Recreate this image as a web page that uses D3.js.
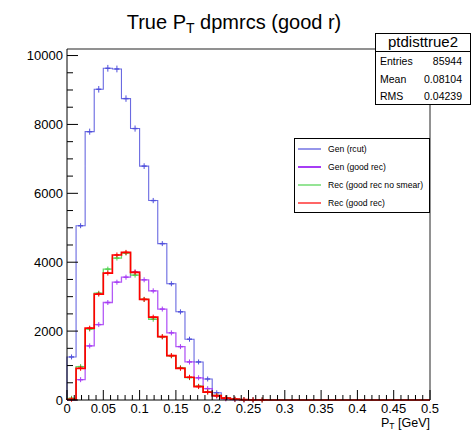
<!DOCTYPE html>
<html>
<head>
<meta charset="utf-8">
<script src="https://cdn.jsdelivr.net/npm/d3@7"></script>
<style>
    html, body { margin: 0; padding: 0; background: #fff; }
    svg { display: block; font-family: "Liberation Sans", Arial, Helvetica, sans-serif; }
</style>
</head>
<body>
<svg id="chart" width="474" height="430"></svg>
<script>
// Histogram contents, 40 bins of 0.0125 GeV from 0 to 0.5
const binLow = 0;
const binHigh = 0.5;
const nBins = 40;

const genRcut = [1250, 5060, 7790, 9020, 9630, 9610, 8750, 7880, 6790, 5790,
    4540, 3375, 2560, 1765, 1105, 610, 210, 60, 20, 8,
    3, 1, 0, 0, 0, 0, 0, 0, 0, 0, 0, 0, 0, 0, 0, 0, 0, 0, 0, 0];
const genGoodRec = [0, 590, 1570, 2190, 2830, 3420, 3565, 3720, 3490, 3170,
    2640, 1950, 1550, 1105, 645, 330, 110, 30, 10, 3,
    1, 0, 0, 0, 0, 0, 0, 0, 0, 0, 0, 0, 0, 0, 0, 0, 0, 0, 0, 0];
const recNoSmear = [50, 970, 2060, 3100, 3800, 4120, 4265, 3625, 2920, 2345,
    1830, 1280, 940, 650, 400, 235, 130, 60, 25, 10,
    5, 2, 0, 0, 0, 0, 0, 0, 0, 0, 0, 0, 0, 0, 0, 0, 0, 0, 0, 0];
const recGoodRec = [20, 920, 2085, 3075, 3685, 4210, 4285, 3705, 2920, 2405,
    1840, 1290, 920, 660, 390, 230, 125, 55, 25, 10,
    5, 2, 0, 0, 0, 0, 0, 0, 0, 0, 0, 0, 0, 0, 0, 0, 0, 0, 0, 0];

const seriesNames = ["Gen (rcut)", "Gen (good rec)", "Rec (good rec no smear)", "Rec (good rec)"];
const seriesValues = [genRcut, genGoodRec, recNoSmear, recGoodRec];
const seriesColors = ["#5050dc", "#a63cf5", "#4fd24f", "#ff0000"];
const seriesWidths = [1.1, 1.3, 1.3, 1.7];

const xTicks = [0, 0.05, 0.1, 0.15, 0.2, 0.25, 0.3, 0.35, 0.4, 0.45, 0.5];
const yTicks = [0, 2000, 4000, 6000, 8000, 10000];

const statLabels = ["Entries", "Mean", "RMS"];
const statValues = ["85944", "0.08104", "0.04239"];

const svg = d3.select("#chart");
const frame = { left: 67, right: 430, top: 49, bottom: 400 };

const x = d3.scaleLinear().domain([binLow, binHigh]).range([frame.left, frame.right]);
const y = d3.scaleLinear().domain([0, 10190]).range([frame.bottom, frame.top]);
const binW = (binHigh - binLow) / nBins;

// Frame (top/right in grey like ROOT pads)
svg.append("path")
    .attr("d", `M${frame.left},${frame.top}H${frame.right}V${frame.bottom}`)
    .attr("fill", "none")
    .attr("stroke", "#6e6e6e")
    .attr("stroke-width", 1.5);

// Histograms
const line = d3.line().x(d => d[0]).y(d => d[1]);

seriesValues.forEach((vals, s) => {
    const pts = [[x(binLow), y(0)]];
    vals.forEach((v, i) => {
        pts.push([x(binLow + i * binW), y(v)]);
        pts.push([x(binLow + (i + 1) * binW), y(v)]);
    });
    pts.push([x(binHigh), y(0)]);

    const g = svg.append("g").attr("class", "hist");
    g.append("path")
        .attr("d", line(pts))
        .attr("fill", "none")
        .attr("stroke", seriesColors[s])
        .attr("stroke-width", seriesWidths[s])
        .attr("opacity", s === 3 ? 1 : 0.85);

    // error crosses at bin centres (only where there are entries)
    vals.forEach((v, i) => {
        if (v <= 0) return;
        const cx = x(binLow + (i + 0.5) * binW);
        const cy = y(v);
        const err = Math.max(y(0) - y(Math.sqrt(v)), 2.5);
        g.append("line")
            .attr("x1", cx).attr("x2", cx)
            .attr("y1", cy - err).attr("y2", cy + err)
            .attr("stroke", seriesColors[s])
            .attr("stroke-width", 1);
        g.append("line")
            .attr("x1", cx - 2.5).attr("x2", cx + 2.5)
            .attr("y1", cy).attr("y2", cy)
            .attr("stroke", seriesColors[s])
            .attr("stroke-width", 1.4);
    });
});

// Axes: ticks point inward
const xAxis = svg.append("g");
xAxis.append("line")
    .attr("x1", frame.left).attr("x2", frame.right)
    .attr("y1", frame.bottom).attr("y2", frame.bottom)
    .attr("stroke", "#000");
const xMinor = d3.range(0, 51).map(k => k / 100);
xAxis.selectAll(".xminor")
    .data(xMinor)
    .enter()
    .append("line")
    .attr("x1", d => x(d)).attr("x2", d => x(d))
    .attr("y1", frame.bottom).attr("y2", (d, i) => frame.bottom - (i % 5 === 0 ? 10 : 5))
    .attr("stroke", "#000");
xAxis.selectAll(".xlab")
    .data(xTicks)
    .enter()
    .append("text")
    .attr("x", d => x(d))
    .attr("y", 413)
    .attr("text-anchor", "middle")
    .attr("font-size", 13)
    .text(d => d === 0 ? "0" : String(d));

const xTitle = svg.append("text")
    .attr("x", frame.right)
    .attr("y", 427)
    .attr("text-anchor", "end")
    .attr("font-size", 12.5);
xTitle.append("tspan").text("P");
xTitle.append("tspan").attr("font-size", 8.5).attr("dy", 2).text("T");
xTitle.append("tspan").attr("dy", -2).text(" [GeV]");

const yAxis = svg.append("g");
yAxis.append("line")
    .attr("x1", frame.left).attr("x2", frame.left)
    .attr("y1", frame.top).attr("y2", frame.bottom)
    .attr("stroke", "#000");
const yMinor = d3.range(0, 10001, 500);
yAxis.selectAll(".yminor")
    .data(yMinor)
    .enter()
    .append("line")
    .attr("x1", frame.left)
    .attr("x2", d => frame.left + (d % 2000 === 0 ? 11 : 6))
    .attr("y1", d => y(d)).attr("y2", d => y(d))
    .attr("stroke", "#000");
yAxis.selectAll(".ylab")
    .data(yTicks)
    .enter()
    .append("text")
    .attr("x", 63)
    .attr("y", d => y(d) + 4.5)
    .attr("text-anchor", "end")
    .attr("font-size", 13)
    .text(d => String(d));

// Title
const title = svg.append("text")
    .attr("x", 234)
    .attr("y", 29)
    .attr("text-anchor", "middle")
    .attr("font-size", 20);
title.append("tspan").text("True P");
title.append("tspan").attr("font-size", 14).attr("dy", 4).text("T");
title.append("tspan").attr("dy", -4).text(" dpmrcs (good r)");

// Stats box
const stats = svg.append("g");
stats.append("rect")
    .attr("x", 375.5).attr("y", 33.5)
    .attr("width", 95).attr("height", 71)
    .attr("fill", "#fff")
    .attr("stroke", "#000");
stats.append("line")
    .attr("x1", 375.5).attr("x2", 470.5)
    .attr("y1", 51.5).attr("y2", 51.5)
    .attr("stroke", "#000");
stats.append("text")
    .attr("x", 423).attr("y", 47)
    .attr("text-anchor", "middle")
    .attr("font-size", 15)
    .text("ptdisttrue2");
statLabels.forEach((lab, i) => {
    const ty = 65 + i * 17.5;
    stats.append("text")
        .attr("x", 380).attr("y", ty)
        .attr("font-size", 10.5)
        .text(lab);
    stats.append("text")
        .attr("x", 462).attr("y", ty)
        .attr("text-anchor", "end")
        .attr("font-size", 10.5)
        .text(statValues[i]);
});

// Legend
const legend = svg.append("g");
legend.append("rect")
    .attr("x", 294.5).attr("y", 138.5)
    .attr("width", 135).attr("height", 74)
    .attr("fill", "#fff")
    .attr("stroke", "#000");
const legendItems = legend.selectAll(".legend-item")
    .data(seriesNames)
    .enter()
    .append("g")
    .attr("class", "legend-item")
    .attr("transform", (d, i) => `translate(0,${149 + i * 18})`);
legendItems.append("line")
    .attr("x1", 298).attr("x2", 321)
    .attr("y1", 0).attr("y2", 0)
    .attr("stroke", (d, i) => seriesColors[i])
    .attr("stroke-width", (d, i) => i === 1 ? 2 : 1.2);
legendItems.append("text")
    .attr("x", 328).attr("y", 3)
    .attr("font-size", 8.6)
    .text(d => d);
</script>
</body>
</html>
